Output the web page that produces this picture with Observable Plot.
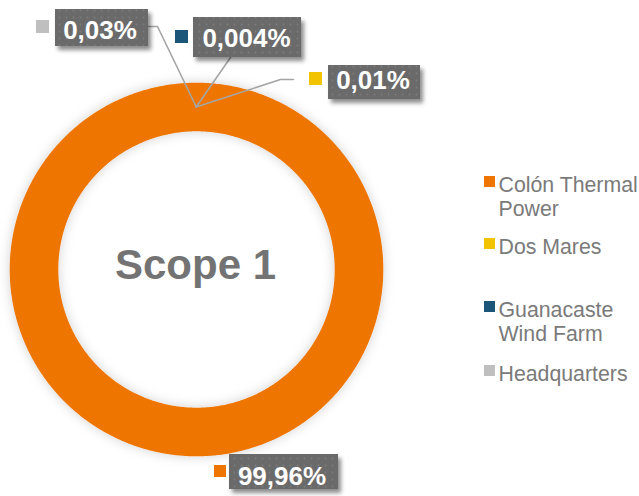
<!DOCTYPE html>
<html><head><meta charset="utf-8">
<script src="https://cdn.jsdelivr.net/npm/d3@7"></script>
<script src="https://cdn.jsdelivr.net/npm/@observablehq/plot@0.6"></script>
<style>body{margin:0;background:#fff;} #chart{width:639px;height:496px;}</style>
</head><body><div id="chart"></div>
<script>
// ---- data ----
const categories = ["Colón Thermal Power", "Dos Mares", "Guanacaste Wind Farm", "Headquarters"];
const legendLabels = ["Colón Thermal\nPower", "Dos Mares", "Guanacaste\nWind Farm", "Headquarters"];
const values = [99.96, 0.01, 0.004, 0.03];
const valueLabels = ["99,96%", "0,01%", "0,004%", "0,03%"];
const colors = ["#ee7600", "#f2c300", "#1b5679", "#bfbfbf"];
const centerTitle = "Scope 1";

// ---- layout (pixel space of the 639x496 canvas) ----
const W = 639, H = 496, CX = 196, CY = 269, R_OUT = 186, R_IN = 139;
const legendTop = [175, 237, 300, 364];
const labelLayout = [
  {x1: 229, y1: 454, x2: 338, y2: 489, tx: 281.5, ty: 476, mx: 214, my: 465, ms: 12, elbow: null},
  {x1: 328, y1: 65, x2: 420, y2: 99, tx: 372.5, ty: 80, mx: 309, my: 72, ms: 13, elbow: [[293, 79], [280, 79]]},
  {x1: 193, y1: 17, x2: 301, y2: 57, tx: 246, ty: 38, mx: 175, my: 30, ms: 13, elbow: [[230, 57]]},
  {x1: 55, y1: 9, x2: 148, y2: 46, tx: 99.5, ty: 30, mx: 36, my: 20, ms: 13, elbow: [[148, 26], [157, 26]]}
];

const rows = categories.map((c, i) => ({category: c, value: values[i], label: valueLabels[i], legend: legendLabels[i], color: colors[i], i}));
const arcs = d3.pie().sort(null).value(d => d.value)(rows);
const maxValue = d3.max(values);

// polygon for each slice
function slicePoints(a) {
  const span = a.endAngle - a.startAngle;
  const n = Math.max(2, Math.ceil(span / (Math.PI / 360)));
  const pts = [];
  for (let k = 0; k <= n; k++) {
    const t = a.startAngle + span * k / n;
    pts.push({x: CX + R_OUT * Math.sin(t), y: CY - R_OUT * Math.cos(t)});
  }
  for (let k = n; k >= 0; k--) {
    const t = a.startAngle + span * k / n;
    pts.push({x: CX + R_IN * Math.sin(t), y: CY - R_IN * Math.cos(t)});
  }
  return pts;
}

// small slices first, largest slice drawn last (its edge stroke hides hairline seams)
const ringMarks = arcs.slice().sort((a, b) => a.value - b.value).map(a => Plot.line(slicePoints(a), {
  x: "x", y: "y", fill: a.data.color,
  stroke: a.data.value === maxValue ? a.data.color : "none", strokeWidth: 1.6,
  curve: "linear-closed", ariaDescription: "ring"
}));

// leader lines
const leaders = [];
arcs.forEach((a, i) => {
  const L = labelLayout[i];
  if (!L.elbow) return;
  const mid = (a.startAngle + a.endAngle) / 2, rm = (R_OUT + R_IN) / 2;
  const pts = L.elbow.map(p => ({x: p[0], y: p[1], k: i}));
  pts.push({x: CX + rm * Math.sin(mid), y: CY - rm * Math.cos(mid), k: i});
  leaders.push(...pts);
});

const boxes = rows.map((r, i) => ({...labelLayout[i], label: r.label, color: r.color}));
const legendRows = rows.map((r, i) => ({top: legendTop[i], legend: r.legend, color: r.color}));

const svg = Plot.plot({
  width: W, height: H, margin: 0,
  x: {domain: [0, W], range: [0, W], axis: null},
  y: {domain: [0, H], range: [0, H], axis: null},
  style: {fontFamily: "Liberation Sans, Arial, sans-serif", background: "#fff"},
  marks: [
    ...ringMarks,
    Plot.line(leaders, {x: "x", y: "y", z: "k", stroke: "#a5a5a5", strokeWidth: 1.6}),
    Plot.rect(boxes, {x1: "x1", x2: "x2", y1: "y1", y2: "y2", fill: "url(#dots)", ariaDescription: "label box"}),
    Plot.rect(boxes, {x1: "mx", x2: d => d.mx + d.ms, y1: "my", y2: d => d.my + d.ms, fill: "color"}),
    Plot.text(boxes, {x: "tx", y: "ty", text: "label", fill: "#fff", fontSize: 26, fontWeight: "bold", lineAnchor: "middle"}),
    Plot.text([centerTitle], {x: CX - 1, y: 265, text: d => d, fill: "#737373", fontSize: 42, fontWeight: "bold", lineAnchor: "middle"}),
    Plot.rect(legendRows, {x1: 484, x2: 495, y1: d => d.top + 1, y2: d => d.top + 12, fill: "color"}),
    Plot.text(legendRows, {x: 498, y: "top", text: "legend", textAnchor: "start", lineAnchor: "top", fontSize: 21.3, lineHeight: 1.1, fill: "#7a7a7a"})
  ]
});

// defs: dotted pattern + shadows
const root = d3.select(svg);
const defs = root.insert("defs", ":first-child");
const pat = defs.append("pattern").attr("id", "dots").attr("patternUnits", "userSpaceOnUse").attr("width", 7).attr("height", 7);
pat.append("rect").attr("width", 7).attr("height", 7).attr("fill", "#6b6b6b");
pat.append("circle").attr("cx", 3.5).attr("cy", 3.5).attr("r", 0.9).attr("fill", "#7b7b7b");
const f1 = defs.append("filter").attr("id", "boxShadow").attr("x", "-20%").attr("y", "-30%").attr("width", "150%").attr("height", "180%");
f1.append("feDropShadow").attr("dx", 3).attr("dy", 4).attr("stdDeviation", 2.2).attr("flood-color", "#000").attr("flood-opacity", 0.45);
const f2 = defs.append("filter").attr("id", "ringShadow").attr("x", "-20%").attr("y", "-20%").attr("width", "140%").attr("height", "140%");
f2.append("feDropShadow").attr("dx", 0).attr("dy", 0).attr("stdDeviation", 6).attr("flood-color", "#000").attr("flood-opacity", 0.18);
root.selectAll('g[aria-description="label box"]').attr("filter", "url(#boxShadow)");
// group all ring slices so a single shadow is drawn behind the whole ring
const ringGroups = root.selectAll('g[aria-description="ring"]').nodes();
if (ringGroups.length) {
  const wrap = document.createElementNS("http://www.w3.org/2000/svg", "g");
  wrap.setAttribute("filter", "url(#ringShadow)");
  ringGroups[0].parentNode.insertBefore(wrap, ringGroups[0]);
  ringGroups.forEach(g => wrap.appendChild(g));
}

document.getElementById("chart").appendChild(svg);
</script>
</body></html>
